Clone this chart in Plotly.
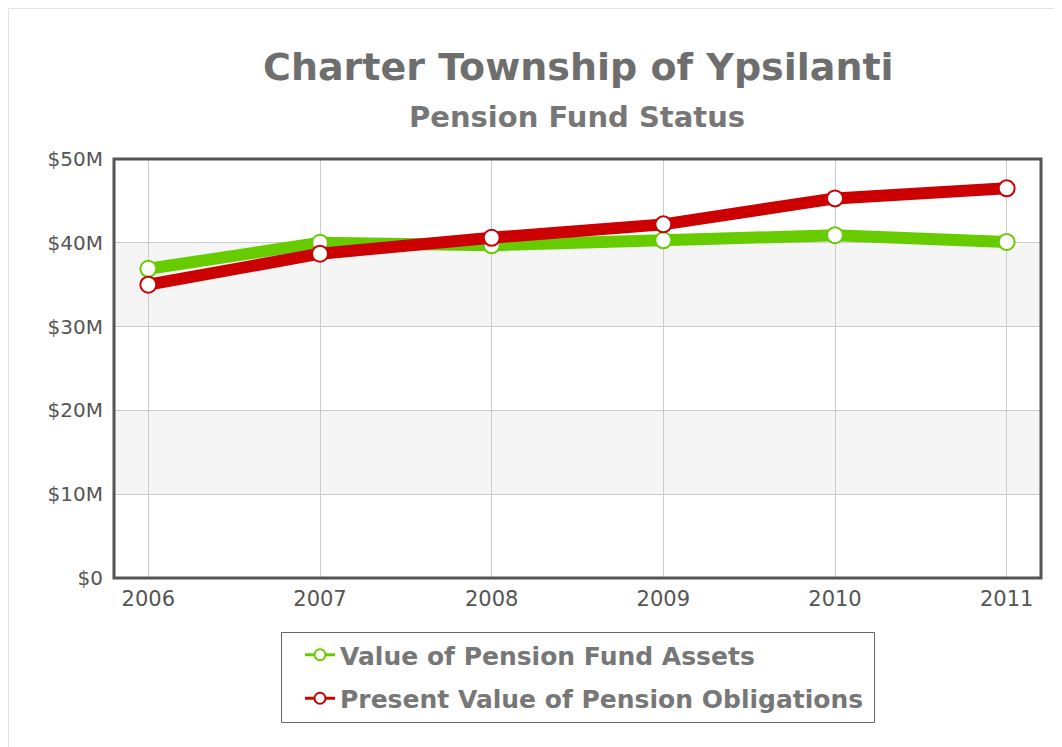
import plotly.graph_objects as go

years = ["2006", "2007", "2008", "2009", "2010", "2011"]
assets = [36.9, 40.0, 39.7, 40.3, 40.9, 40.1]
obligations = [35.0, 38.7, 40.6, 42.2, 45.3, 46.5]
ytick_vals = [0, 10, 20, 30, 40, 50]
ytick_text = ["$0", "$10M", "$20M", "$30M", "$40M", "$50M"]
bands = [(10, 20), (30, 40)]
names = ["Value of Pension Fund Assets", "Present Value of Pension Obligations"]
colors = ["#66cc00", "#cc0000"]

FONT = "DejaVu Sans"
xs = list(range(len(years)))

# plot area in figure pixels
L, R, T, B = 106, 1033, 151, 570
W, H = 1062, 747
PW, PH = R - L, B - T


def px(x):
    return (x - L) / PW


def py(y):
    return (B - y) / PH


fig = go.Figure()
for vals, name, col in zip([assets, obligations], names, colors):
    fig.add_trace(go.Scatter(
        x=xs, y=vals, mode="lines+markers", name=name, showlegend=False,
        line=dict(color=col, width=12),
        marker=dict(size=16, color="white", line=dict(color=col, width=2)),
    ))
for i, (name, col) in enumerate(zip(names, colors)):
    fig.add_trace(go.Scatter(
        x=[None], y=[None], mode="lines+markers", name=name, legendgroup=str(i),
        line=dict(color=col, width=3),
        marker=dict(size=11, color="white", line=dict(color=col, width=2)),
    ))

shapes = []
for lo, hi in bands:
    shapes.append(dict(type="rect", xref="paper", yref="y", x0=0, x1=1, y0=lo, y1=hi,
                       fillcolor="#f5f5f5", line=dict(width=0), layer="below"))
shapes.append(dict(type="rect", xref="paper", yref="paper", x0=0, x1=1, y0=0, y1=1,
                   line=dict(color="#555555", width=3)))
# legend frame
shapes.append(dict(type="rect", xref="paper", yref="paper",
                   x0=px(273.5), x1=px(866.5), y0=py(714.5), y1=py(624.5),
                   line=dict(color="#666666", width=1)))
# outer page border
shapes.append(dict(type="rect", xref="paper", yref="paper",
                   x0=px(0.5), x1=px(W + 10), y0=py(H + 10), y1=py(0.5),
                   line=dict(color="#e3e3e3", width=1), layer="below"))

fig.update_layout(
    width=W, height=H,
    margin=dict(l=L, r=W - R, t=T, b=H - B),
    paper_bgcolor="white", plot_bgcolor="white",
    font=dict(family=FONT, color="#555555"),
    showlegend=True,
    legend=dict(x=px(292), xanchor="left", y=py(624), yanchor="top",
                borderwidth=0, bgcolor="rgba(0,0,0,0)",
                font=dict(family=FONT, size=25, color="#777777", weight="bold"),
                traceorder="grouped", tracegroupgap=8, itemwidth=30),
    xaxis=dict(range=[-0.2, 5.2], tickmode="array", tickvals=xs, ticktext=years,
               showgrid=True, gridcolor="#cccccc", gridwidth=1, zeroline=False,
               showline=False, ticks="", ticklabelstandoff=6,
               tickfont=dict(size=21, color="#555555")),
    yaxis=dict(range=[0, 50], tickmode="array", tickvals=ytick_vals, ticktext=ytick_text,
               showgrid=True, gridcolor="#cccccc", gridwidth=1, zeroline=False,
               showline=False, ticks="", ticklabelstandoff=10,
               tickfont=dict(size=20, color="#555555")),
    shapes=shapes,
    annotations=[
        dict(text="<b>Charter Township of Ypsilanti</b>", xref="paper", yref="paper",
             x=px(570), y=py(59), showarrow=False,
             xanchor="center", yanchor="middle",
             font=dict(family=FONT, size=38, color="#6e6e6e")),
        dict(text="<b>Pension Fund Status</b>", xref="paper", yref="paper",
             x=px(569), y=py(109), showarrow=False,
             xanchor="center", yanchor="middle",
             font=dict(family=FONT, size=29, color="#777777")),
    ],
)

fig.write_html("out.html")
